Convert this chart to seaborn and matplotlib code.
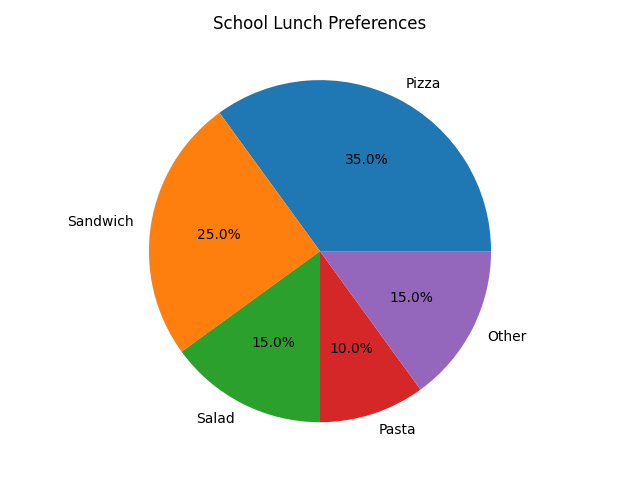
import matplotlib
matplotlib.use("Agg")
import matplotlib.pyplot as plt
import seaborn as sns

# Data
foods = ["Pizza", "Sandwich", "Salad", "Pasta", "Other"]
shares = [35, 25, 15, 10, 15]

colors = sns.color_palette("tab10", len(foods))

fig, ax = plt.subplots(figsize=(6.4, 4.8), dpi=100)
ax.pie(shares, labels=foods, colors=colors, autopct='%1.1f%%')
ax.set_title('School Lunch Preferences')
plt.tight_layout()
plt.savefig("out.png", dpi=100)
plt.close()
